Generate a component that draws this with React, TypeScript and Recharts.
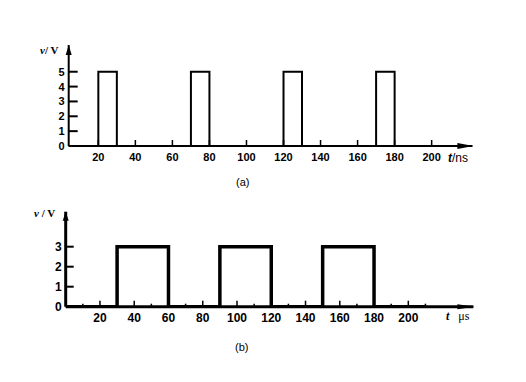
import { LineChart, Line, XAxis, YAxis, ReferenceDot } from 'recharts'

// (a) ns pulses, 5 V
const aTime = [4, 20, 20, 30, 30, 70, 70, 80, 80, 120, 120, 130, 130, 170, 170, 180, 180, 222]
const aVolt = [0, 0, 5, 5, 0, 0, 5, 5, 0, 0, 5, 5, 0, 0, 5, 5, 0, 0]
const aXTicks = [20, 40, 60, 80, 100, 120, 140, 160, 180, 200]
const aYTicks = [0, 1, 2, 3, 4, 5]

// (b) µs pulses, 3 V
const bTime = [0, 30, 30, 60, 60, 90, 90, 120, 120, 150, 150, 180, 180, 210]
const bVolt = [0, 0, 3, 3, 0, 0, 3, 3, 0, 0, 3, 3, 0, 0]
const bXTicks = [10, 20, 30, 40, 50, 60, 70, 80, 90, 100, 110, 120, 130, 140, 150, 160, 170, 180, 190, 200, 210]
const bXLabels = [20, 40, 60, 80, 100, 120, 140, 160, 180, 200]
const bYTicks = [0, 1, 2, 3]

const aData = aTime.map((t, i) => ({ t, v: aVolt[i] }))
const bData = bTime.map((t, i) => ({ t, v: bVolt[i] }))

const SANS = '"Liberation Sans", Arial, sans-serif'
const SERIF = '"Liberation Serif", "Times New Roman", serif'

const AXTick = (props: any) => {
  const { x, y, payload } = props
  return (
    <g>
      <line x1={x} x2={x} y1={y} y2={y - 6} stroke="#000" strokeWidth={1.5} />
      <text x={x} y={y + 15} textAnchor="middle" fontSize={11} fontWeight="bold" fontFamily={SANS} fill="#000">
        {payload.value}
      </text>
    </g>
  )
}

const AYTick = (props: any) => {
  const { x, y, payload } = props
  return (
    <g>
      <line x1={x} x2={x + 9} y1={y} y2={y} stroke="#000" strokeWidth={2} />
      <text x={x - 4} y={y + 4} textAnchor="end" fontSize={11} fontWeight="bold" fontFamily={SANS} fill="#000">
        {payload.value}
      </text>
    </g>
  )
}

const BXTick = (props: any) => {
  const { x, y, payload } = props
  const major = bXLabels.includes(payload.value)
  return (
    <g>
      <line x1={x} x2={x} y1={y} y2={y - (major ? 6 : 3)} stroke="#000" strokeWidth={1.5} />
      {major && (
        <text x={x} y={y + 15} textAnchor="middle" fontSize={12} fontWeight="bold" fontFamily={SANS} fill="#000">
          {payload.value}
        </text>
      )}
    </g>
  )
}

const BYTick = (props: any) => {
  const { x, y, payload } = props
  return (
    <g>
      <line x1={x} x2={x + 8} y1={y} y2={y} stroke="#000" strokeWidth={2} />
      <text x={x - 4} y={y + 4} textAnchor="end" fontSize={12} fontWeight="bold" fontFamily={SANS} fill="#000">
        {payload.value}
      </text>
    </g>
  )
}

const rightArrow = (len: number, half: number) => (p: any) => (
  <polygon points={`${p.cx + 1},${p.cy} ${p.cx - len},${p.cy - half} ${p.cx - len},${p.cy + half}`} fill="#000" />
)
const upArrow = (len: number, half: number) => (p: any) => (
  <polygon points={`${p.cx},${p.cy} ${p.cx - half},${p.cy + len} ${p.cx + half},${p.cy + len}`} fill="#000" />
)

const abs = (left: number, top: number, extra: any = {}) => ({
  position: 'absolute' as const,
  left,
  top,
  lineHeight: 1,
  whiteSpace: 'nowrap' as const,
  color: '#000',
  ...extra,
})

export default function App() {
  return (
    <div style={{ position: 'absolute', left: 0, top: 0, width: 526, height: 382, background: '#fff' }}>
      <div style={{ position: 'absolute', left: 0, top: 0 }}>
        <LineChart width={526} height={190} data={aData} margin={{ top: 45, right: 53.6, bottom: 14, left: 28.7 }}>
          <XAxis
            dataKey="t"
            type="number"
            domain={[4, 222]}
            ticks={aXTicks}
            interval={0}
            tickSize={0}
            tickMargin={0}
            height={30}
            allowDataOverflow
            axisLine={{ stroke: '#000', strokeWidth: 2 }}
            tick={<AXTick />}
          />
          <YAxis
            type="number"
            domain={[0, 6.8]}
            ticks={aYTicks}
            interval={0}
            tickSize={0}
            tickMargin={0}
            width={40}
            allowDataOverflow
            axisLine={{ stroke: '#000', strokeWidth: 2 }}
            tick={<AYTick />}
          />
          <Line type="linear" dataKey="v" stroke="#000" strokeWidth={2} dot={false} isAnimationActive={false} />
          <ReferenceDot x={222} y={0} ifOverflow="visible" shape={rightArrow(15, 3)} />
          <ReferenceDot x={4} y={6.8} ifOverflow="visible" shape={upArrow(10, 3)} />
        </LineChart>
      </div>
      <div style={{ position: 'absolute', left: 0, top: 190 }}>
        <LineChart width={526} height={192} data={bData} margin={{ top: 21.7, right: 52.6, bottom: 45.3, left: 25.7 }}>
          <XAxis
            dataKey="t"
            type="number"
            domain={[0, 238]}
            ticks={bXTicks}
            interval={0}
            tickSize={0}
            tickMargin={0}
            height={30}
            allowDataOverflow
            axisLine={{ stroke: '#000', strokeWidth: 3 }}
            tick={<BXTick />}
          />
          <YAxis
            type="number"
            domain={[0, 4.75]}
            ticks={bYTicks}
            interval={0}
            tickSize={0}
            tickMargin={0}
            width={40}
            allowDataOverflow
            axisLine={{ stroke: '#000', strokeWidth: 3 }}
            tick={<BYTick />}
          />
          <Line type="linear" dataKey="v" stroke="#000" strokeWidth={3.5} dot={false} isAnimationActive={false} />
          <ReferenceDot x={238} y={0} ifOverflow="visible" shape={rightArrow(16, 2.5)} />
          <ReferenceDot x={0} y={4.75} ifOverflow="visible" shape={upArrow(9, 3)} />
        </LineChart>
      </div>

      <div style={abs(40, 45, { fontFamily: SERIF, fontWeight: 'bold', fontSize: 11 })}>
        <i>v</i>/ V
      </div>
      <div style={abs(448, 152, { fontFamily: SANS, fontSize: 12 })}>
        <i style={{ fontWeight: 'bold' }}>t</i>/ns
      </div>
      <div style={abs(236, 177, { fontFamily: SANS, fontSize: 11 })}>(a)</div>

      <div style={abs(34, 208, { fontFamily: SERIF, fontWeight: 'bold', fontSize: 11 })}>
        <i>v</i> / V
      </div>
      <div style={abs(446, 310, { fontFamily: SERIF, fontSize: 12 })}>
        <i style={{ fontWeight: 'bold' }}>t</i>&nbsp;&nbsp; μs
      </div>
      <div style={abs(235, 342, { fontFamily: SANS, fontSize: 11 })}>(b)</div>
    </div>
  )
}
